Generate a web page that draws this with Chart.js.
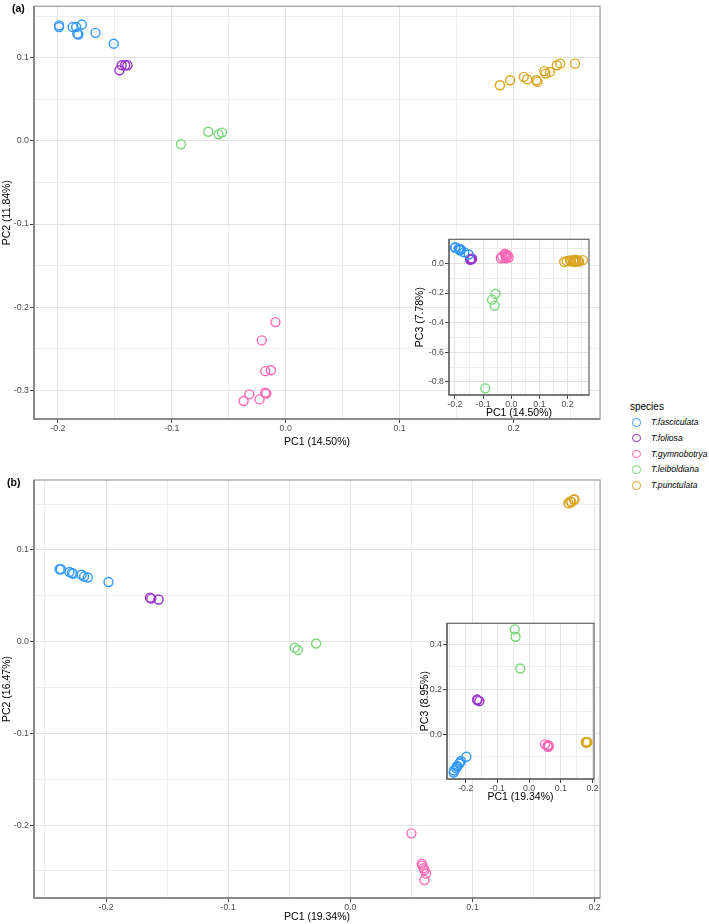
<!DOCTYPE html>
<html>
<head>
<meta charset="utf-8">
<script src="https://cdn.jsdelivr.net/npm/chart.js@4.4.1/dist/chart.umd.min.js"></script>
<style>
  body { margin: 0; background: #fff; width: 709px; height: 924px; position: relative; overflow: hidden;
         font-family: "Liberation Sans", Arial, sans-serif; }
  .box { position: absolute; }
  .box canvas { display: block; }
  .tag { position: absolute; font-weight: bold; font-size: 10.5px; color: #000; }
  #legend { position: absolute; left: 630px; top: 401px; }
  #legend .title { font-size: 10px; color: #000; margin-bottom: 4px; }
  #legend .item { position: relative; height: 15.8px; }
  #legend .dot { position: absolute; left: 2px; top: 2px; width: 6.5px; height: 6.5px; border-radius: 50%; border: 1.5px solid; }
  #legend .lab { position: absolute; left: 21px; top: 0; font-size: 8.6px; font-style: italic; color: #000; line-height: 12px; }
</style>
</head>
<body>
<div class="box" style="left:0;top:0"><canvas id="mainA" width="606" height="450"></canvas></div>
<div class="box" style="left:410px;top:233px"><canvas id="insetA" width="185" height="186"></canvas></div>
<div class="box" style="left:0;top:470px"><canvas id="mainB" width="606" height="454"></canvas></div>
<div class="box" style="left:410px;top:617px"><canvas id="insetB" width="190" height="186"></canvas></div>
<div class="tag" style="left:12px;top:2px">(a)</div>
<div class="tag" style="left:7px;top:476px">(b)</div>
<div id="legend"></div>
<script>
Chart.defaults.font.family = '"Liberation Sans", Arial, sans-serif';

const species = ['T.fasciculata', 'T.foliosa', 'T.gymnobotrya', 'T.leiboldiana', 'T.punctulata'];
const colours = ['#3399FF', '#9933CC', '#FF69B4', '#77D877', '#DAA520'];

// panel (a) -- one inner array per species, same order as above
const aPC1 = [
  [-0.199, -0.199, -0.187, -0.184, -0.179, -0.183, -0.182, -0.167, -0.151],
  [-0.146, -0.144, -0.141, -0.139],
  [-0.009, -0.021, -0.018, -0.013, -0.018, -0.017, -0.032, -0.037, -0.023],
  [-0.092, -0.068, -0.059, -0.056],
  [0.188, 0.197, 0.209, 0.212, 0.220, 0.221, 0.227, 0.228, 0.232, 0.238, 0.241, 0.254]
];
const aPC2 = [
  [0.139, 0.137, 0.137, 0.137, 0.140, 0.129, 0.128, 0.130, 0.117],
  [0.085, 0.091, 0.091, 0.091],
  [-0.218, -0.240, -0.277, -0.276, -0.303, -0.304, -0.305, -0.313, -0.311],
  [-0.004, 0.011, 0.008, 0.010],
  [0.067, 0.073, 0.077, 0.074, 0.073, 0.071, 0.084, 0.081, 0.083, 0.091, 0.093, 0.093]
];
const aPC3 = [
  [0.110, 0.105, 0.100, 0.098, 0.095, 0.090, 0.088, 0.075, 0.060],
  [0.025, 0.030, 0.028, 0.032],
  [0.040, 0.060, 0.045, 0.055, 0.035, 0.050, 0.045, 0.035, 0.065],
  [-0.844, -0.245, -0.285, -0.205],
  [0.010, 0.015, 0.020, 0.012, 0.018, 0.022, 0.010, 0.025, 0.015, 0.020, 0.012, 0.022]
];

// panel (b)
const bPC1 = [
  [-0.238, -0.237, -0.230, -0.228, -0.227, -0.220, -0.218, -0.215, -0.198],
  [-0.164, -0.163, -0.157],
  [0.050, 0.0585, 0.059, 0.060, 0.0607, 0.062, 0.0607],
  [-0.0455, -0.043, -0.028],
  [0.1786, 0.180, 0.181, 0.183, 0.1835]
];
const bPC2 = [
  [0.079, 0.079, 0.076, 0.075, 0.074, 0.073, 0.071, 0.070, 0.065],
  [0.048, 0.047, 0.046],
  [-0.209, -0.242, -0.244, -0.247, -0.249, -0.253, -0.260],
  [-0.0065, -0.009, -0.002],
  [0.151, 0.153, 0.152, 0.155, 0.155]
];
const bPC3 = [
  [-0.169, -0.160, -0.150, -0.143, -0.140, -0.130, -0.125, -0.118, -0.099],
  [0.155, 0.152, 0.148],
  [-0.044, -0.050, -0.052, -0.048, -0.055, -0.053, -0.050],
  [0.467, 0.434, 0.293],
  [-0.035, -0.033, -0.036, -0.034, -0.035]
];

// tick positions (labelled majors, unlabelled minors)
const aXMajor = [-0.2, -0.1, 0, 0.1, 0.2];
const aXMinor = [-0.15, -0.05, 0.05, 0.15, 0.25];
const aYMajor = [0.1, 0, -0.1, -0.2, -0.3];
const aYMinor = [0.15, 0.05, -0.05, -0.15, -0.25];
const aInsetYMajor = [0, -0.2, -0.4, -0.6, -0.8];
const aInsetYMinor = [0.1, -0.1, -0.3, -0.5, -0.7];
const bXMajor = [-0.2, -0.1, 0, 0.1, 0.2];
const bXMinor = [-0.25, -0.15, -0.05, 0.05, 0.15];
const bYMajor = [0.1, 0, -0.1, -0.2];
const bYMinor = [0.15, 0.05, -0.05, -0.15, -0.25];
const bInsetYMajor = [0, 0.2, 0.4];
const bInsetYMinor = [-0.1, 0.1, 0.3];

const panelPlugin = {
  id: 'panel',
  beforeDraw(chart, args, opts) {
    if (!opts.fill) return;
    const { ctx, chartArea: a } = chart;
    ctx.save();
    ctx.fillStyle = opts.fill;
    ctx.fillRect(a.left, a.top, a.width, a.height);
    ctx.restore();
  },
  afterDatasetsDraw(chart, args, opts) {
    const { ctx, chartArea: a } = chart;
    ctx.save();
    ctx.strokeStyle = opts.border;
    ctx.lineWidth = opts.borderWidth;
    ctx.strokeRect(a.left, a.top, a.width, a.height);
    ctx.strokeStyle = opts.axis;
    ctx.lineWidth = opts.axisWidth;
    ctx.beginPath();
    ctx.moveTo(a.left, a.top);
    ctx.lineTo(a.left, a.bottom);
    ctx.lineTo(a.right, a.bottom);
    ctx.stroke();
    ctx.restore();
  }
};

function makeSets(xs, ys) {
  return species.map((name, i) => ({
    label: name,
    data: xs[i].map((x, j) => ({ x: x, y: ys[i][j] })),
    borderColor: colours[i],
    backgroundColor: 'rgba(0,0,0,0)',
    pointRadius: 4.5,
    pointBorderWidth: 1.4
  }));
}

function makeAxis(min, max, major, minor, title, s) {
  const all = major.concat(minor);
  return {
    type: 'linear',
    min: min,
    max: max,
    afterBuildTicks: sc => { sc.ticks = all.map(v => ({ value: v })); },
    afterFit: sc => { if (s.width !== undefined) sc.width = s.width; else sc.height = s.height; },
    ticks: {
      autoSkip: false, maxRotation: 0, padding: s.tickPad, color: '#4d4d4d',
      font: { size: 8.8 },
      callback: v => major.includes(v) ? v.toFixed(1) : ''
    },
    grid: {
      color: ctx => ctx.tick && major.includes(ctx.tick.value) ? '#e2e2e2' : '#ededed',
      lineWidth: 1,
      tickLength: 4,
      tickColor: ctx => ctx.tick && major.includes(ctx.tick.value) ? '#444' : 'rgba(0,0,0,0)'
    },
    border: { display: false },
    title: { display: true, text: title, color: '#000', font: { size: 10.5 }, padding: s.titlePad }
  };
}

function drawPlot(id, xs, ys, p) {
  new Chart(document.getElementById(id), {
    type: 'scatter',
    data: { datasets: makeSets(xs, ys) },
    options: {
      responsive: false,
      animation: false,
      events: [],
      layout: { padding: { top: p.padTop, right: p.padRight, left: 0, bottom: 0 } },
      plugins: {
        legend: { display: false },
        tooltip: { enabled: false },
        panel: p.panel
      },
      scales: {
        x: Object.assign({ position: 'bottom' },
          makeAxis(p.xMin, p.xMax, p.xMajor, p.xMinor, p.xTitle, { height: p.xHeight, tickPad: 0, titlePad: { top: 0, bottom: p.xTitlePad } })),
        y: Object.assign({ position: 'left' },
          makeAxis(p.yMin, p.yMax, p.yMajor, p.yMinor, p.yTitle, { width: p.yWidth, tickPad: 1, titlePad: { top: p.yTitlePad, bottom: 0 } }))
      }
    },
    plugins: [panelPlugin]
  });
}

const mainPanel = { fill: null, border: '#a3a3a3', borderWidth: 1.3, axis: '#7a7a7a', axisWidth: 1.6 };
const insetPanel = { fill: '#ffffff', border: '#555555', borderWidth: 1.1, axis: '#555555', axisWidth: 1.1 };

drawPlot('mainA', aPC1, aPC2, {
  xMin: -0.221, xMax: 0.276, yMin: -0.3346, yMax: 0.162,
  xMajor: aXMajor, xMinor: aXMinor, yMajor: aYMajor, yMinor: aYMinor,
  xTitle: 'PC1 (14.50%)', yTitle: 'PC2 (11.84%)',
  padTop: 1, padRight: 5, xHeight: 31, yWidth: 34, xTitlePad: 2, yTitlePad: 1,
  panel: mainPanel
});
drawPlot('insetA', aPC1, aPC3, {
  xMin: -0.221, xMax: 0.276, yMin: -0.889, yMax: 0.163,
  xMajor: aXMajor, xMinor: aXMinor, yMajor: aInsetYMajor, yMinor: aInsetYMinor,
  xTitle: 'PC1 (14.50%)', yTitle: 'PC3 (7.78%)',
  padTop: 4, padRight: 6, xHeight: 24, yWidth: 39, xTitlePad: 0, yTitlePad: 4,
  panel: insetPanel
});
drawPlot('mainB', bPC1, bPC2, {
  xMin: -0.259, xMax: 0.2045, yMin: -0.2795, yMax: 0.1763,
  xMajor: bXMajor, xMinor: bXMinor, yMajor: bYMajor, yMinor: bYMinor,
  xTitle: 'PC1 (19.34%)', yTitle: 'PC2 (16.47%)',
  padTop: 10, padRight: 5, xHeight: 26, yWidth: 34, xTitlePad: 1, yTitlePad: 1,
  panel: mainPanel
});
drawPlot('insetB', bPC1, bPC3, {
  xMin: -0.259, xMax: 0.2045, yMin: -0.198, yMax: 0.494,
  xMajor: bXMajor, xMinor: bXMinor, yMajor: bInsetYMajor, yMinor: bInsetYMinor,
  xTitle: 'PC1 (19.34%)', yTitle: 'PC3 (8.95%)',
  padTop: 5, padRight: 6, xHeight: 24, yWidth: 37, xTitlePad: 0, yTitlePad: 9,
  panel: insetPanel
});

// legend
const legend = document.getElementById('legend');
let html = '<div class="title">species</div>';
species.forEach((name, i) => {
  html += '<div class="item"><span class="dot" style="border-color:' + colours[i] + '"></span>' +
          '<span class="lab">' + name + '</span></div>';
});
legend.innerHTML = html;
</script>
</body>
</html>
